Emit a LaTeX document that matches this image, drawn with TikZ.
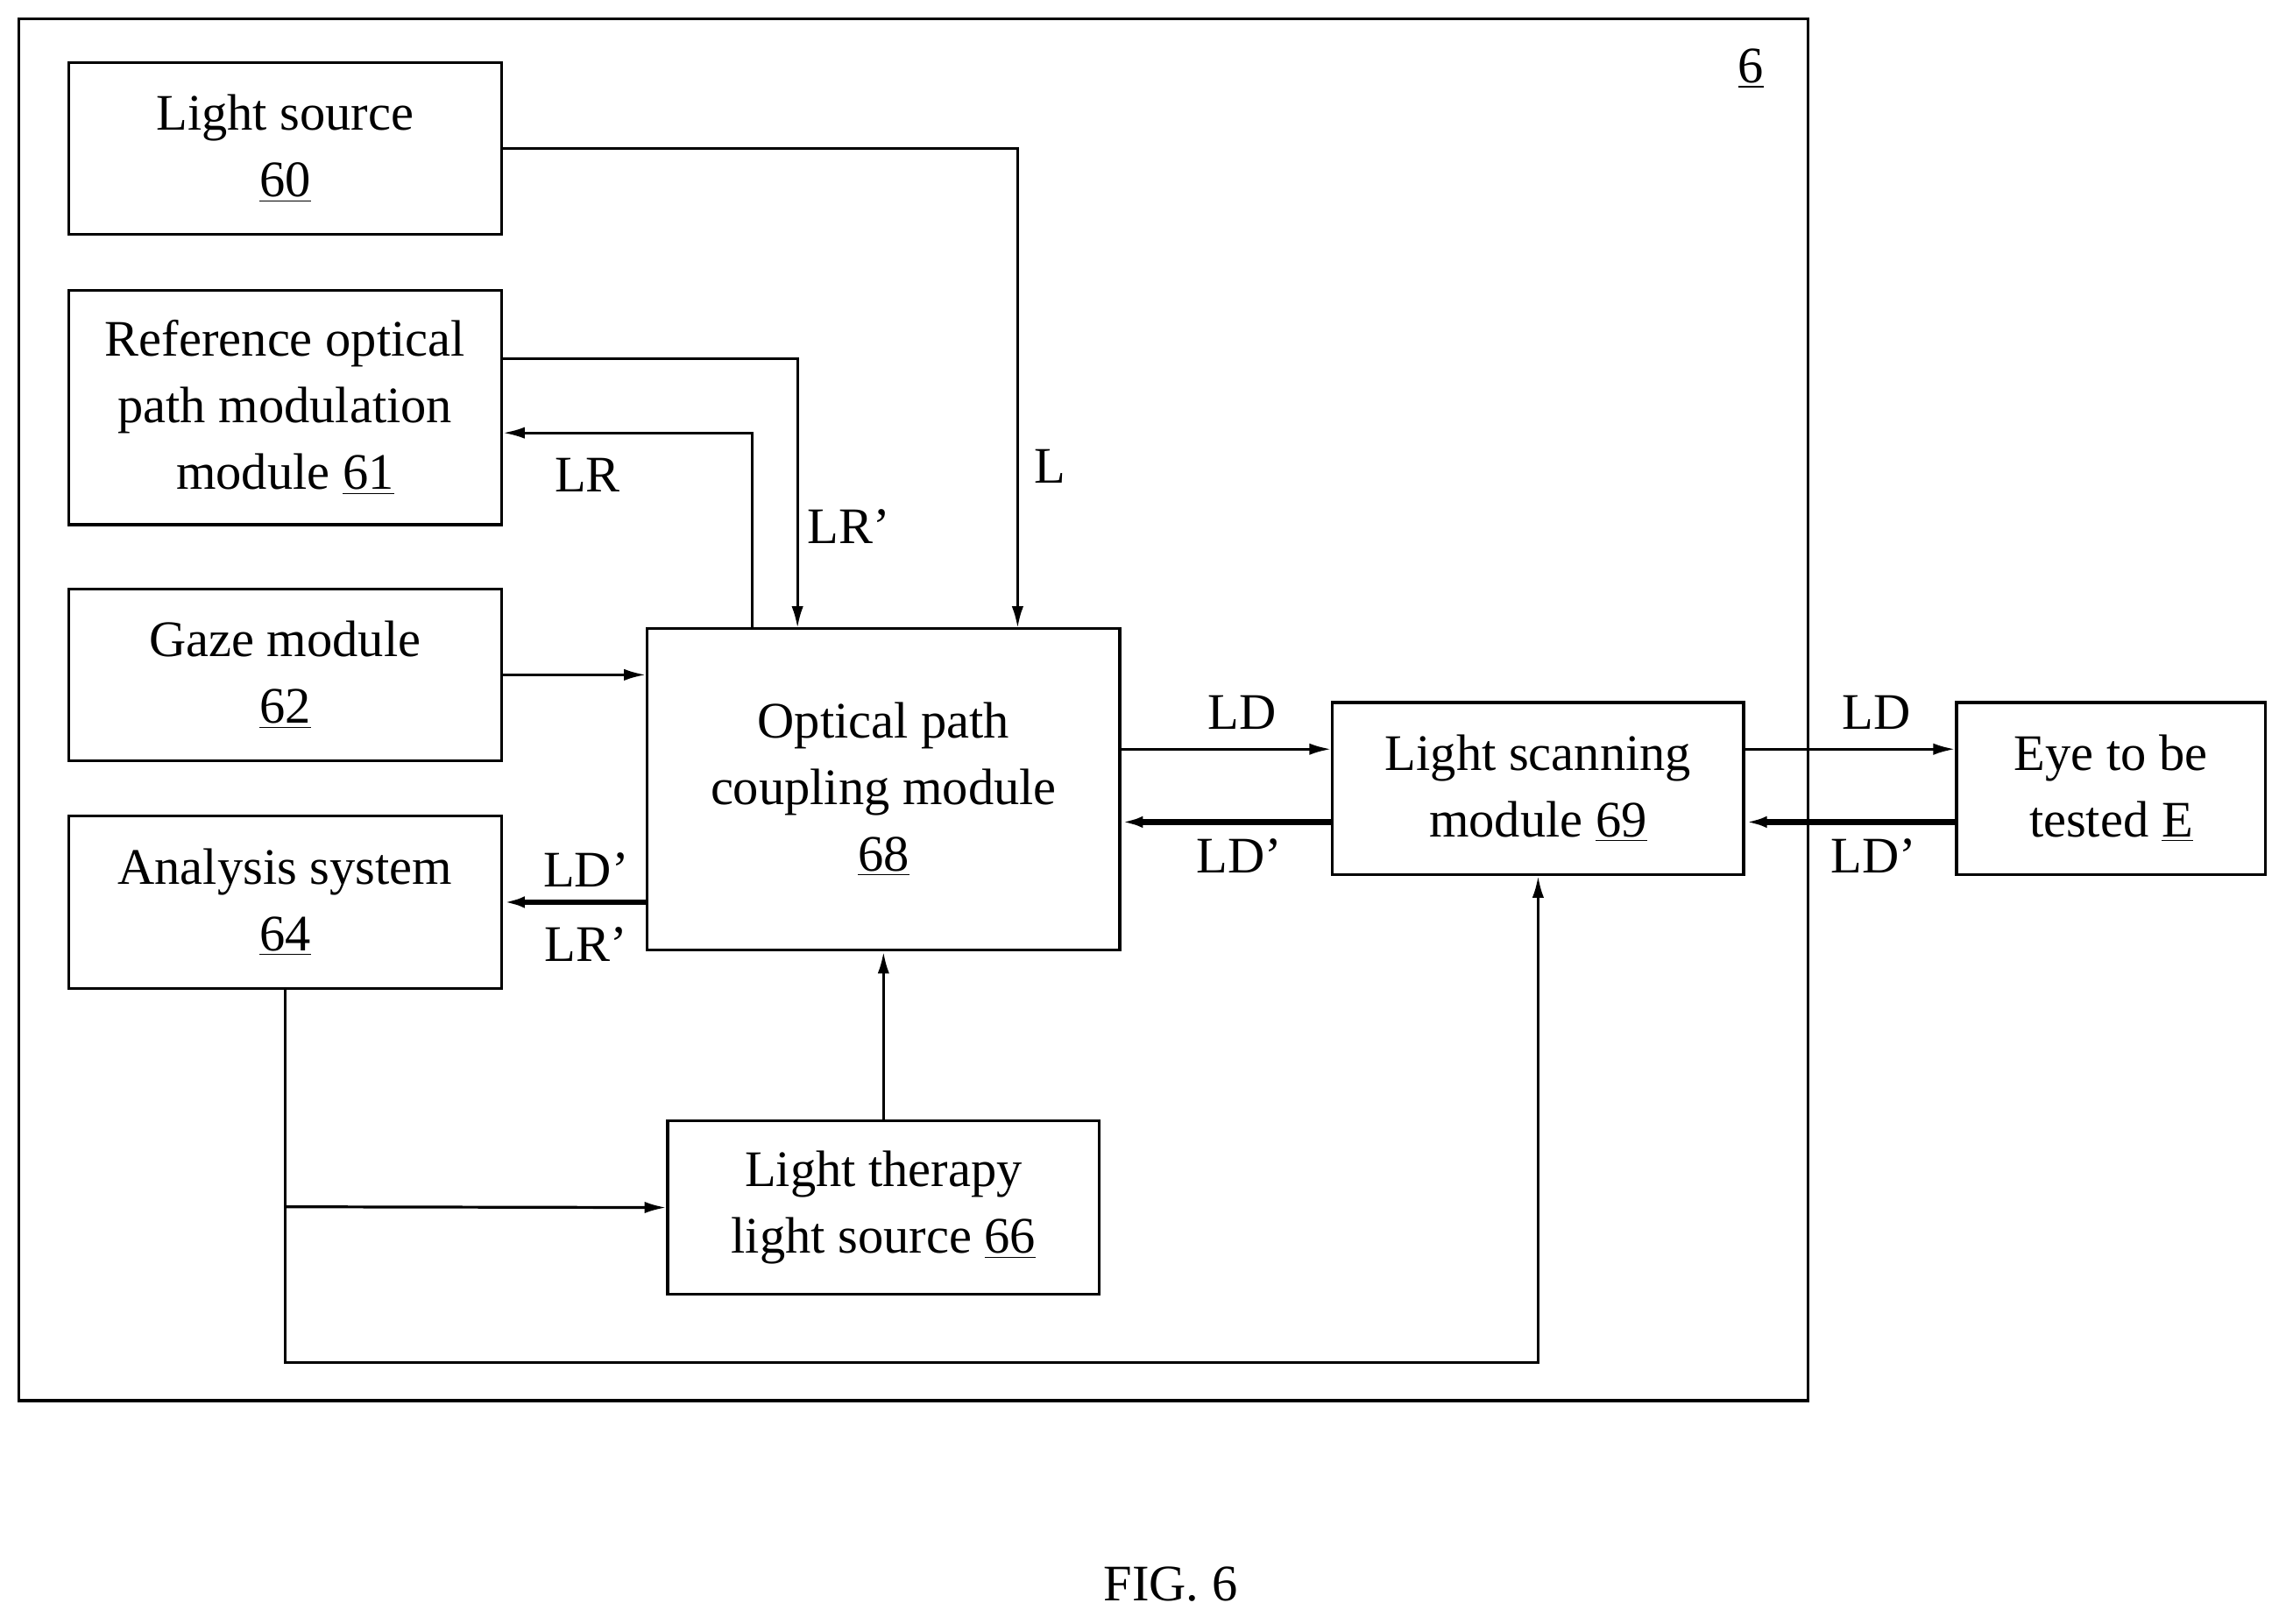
\documentclass[tikz,border=0pt]{standalone}
\usepackage{fontspec}
\setmainfont{Liberation Serif}
\usetikzlibrary{arrows.meta}
\begin{document}
\begin{tikzpicture}[x=0.02cm,y=-0.02cm,
  box/.style={draw,line width=1.1pt,align=center,inner sep=0pt,font=\fontsize{20}{26}\selectfont},
  lbl/.style={font=\fontsize{20}{24}\selectfont,inner sep=0pt},
  ar/.style={line width=1.1pt,-{Latex[length=0.3cm,width=0.16cm]}},
  tar/.style={line width=2.2pt,-{Latex[length=0.3cm,width=0.16cm]}}]
\useasboundingbox (0,0) rectangle (1568,1114);
\node[draw,line width=1.1pt,minimum width=1227*0.02cm,minimum height=948*0.02cm,inner sep=0pt] (outer) at (626.5,487) {};
\node[lbl] (n6) at (1201,47) {\underline{6}};
\node[box,minimum width=297*0.02cm,minimum height=118*0.02cm] (b60) at (195.5,102) {Light source\\\underline{60}};
\node[box,minimum width=297*0.02cm,minimum height=161*0.02cm] (b61) at (195.5,279.5) {Reference optical\\path modulation\\module \underline{61}};
\node[box,minimum width=297*0.02cm,minimum height=118*0.02cm] (b62) at (195.5,463) {Gaze module\\\underline{62}};
\node[box,minimum width=297*0.02cm,minimum height=118*0.02cm] (b64) at (195.5,619) {Analysis system\\\underline{64}};
\node[box,minimum width=324*0.02cm,minimum height=221*0.02cm] (b68) at (606,541.5) {Optical path\\coupling module\\\underline{68}};
\node[box,minimum width=296*0.02cm,minimum height=119*0.02cm] (b66) at (606,828.5) {Light therapy\\light source \underline{66}};
\node[box,minimum width=282*0.02cm,minimum height=118*0.02cm] (b69) at (1055,541) {Light scanning\\module \underline{69}};
\node[box,minimum width=212*0.02cm,minimum height=118*0.02cm] (bE) at (1448,541) {Eye to be\\tested \underline{E}};
\node[lbl] (fig) at (803,1087) {FIG. 6};
% connectors
\draw[ar] (b60.east |- 0,102) -| (698,431);
\node[lbl] (tL) at (720,320) {L};
\draw[ar] (b61.east |- 0,246) -| (547,431);
\node[lbl] (tLRp) at (582,361) {LR'};
\draw[ar] (516,431) |- (b61.east |- 0,297);
\node[lbl] (tLR) at (403,326) {LR};
\draw[ar] (b62.east) -- (b68.west |- b62.east);
\draw[tar] (b68.west |- 0,619) -- (b64.east);
\node[lbl] (tLDp1) at (402,597) {LD'};
\node[lbl] (tLRp2) at (402,648) {LR'};
\draw[ar] (b68.east |- 0,514) -- (b69.west |- 0,514);
\node[lbl] (tLD1) at (852,489) {LD};
\draw[tar] (b69.west |- 0,564) -- (b68.east |- 0,564);
\node[lbl] (tLDp2) at (850,587) {LD'};
\draw[ar] (b69.east |- 0,514) -- (bE.west |- 0,514);
\node[lbl] (tLD2) at (1287,489) {LD};
\draw[tar] (bE.west |- 0,564) -- (b69.east |- 0,564);
\node[lbl] (tLDp3) at (1285,587) {LD'};
\draw[ar] (b66.north) -- (b68.south);
\draw[ar] (b64.south) |- (1055,935) -- (b69.south);
\draw[ar] (195,828) -- (b66.west);
\end{tikzpicture}
\end{document}
